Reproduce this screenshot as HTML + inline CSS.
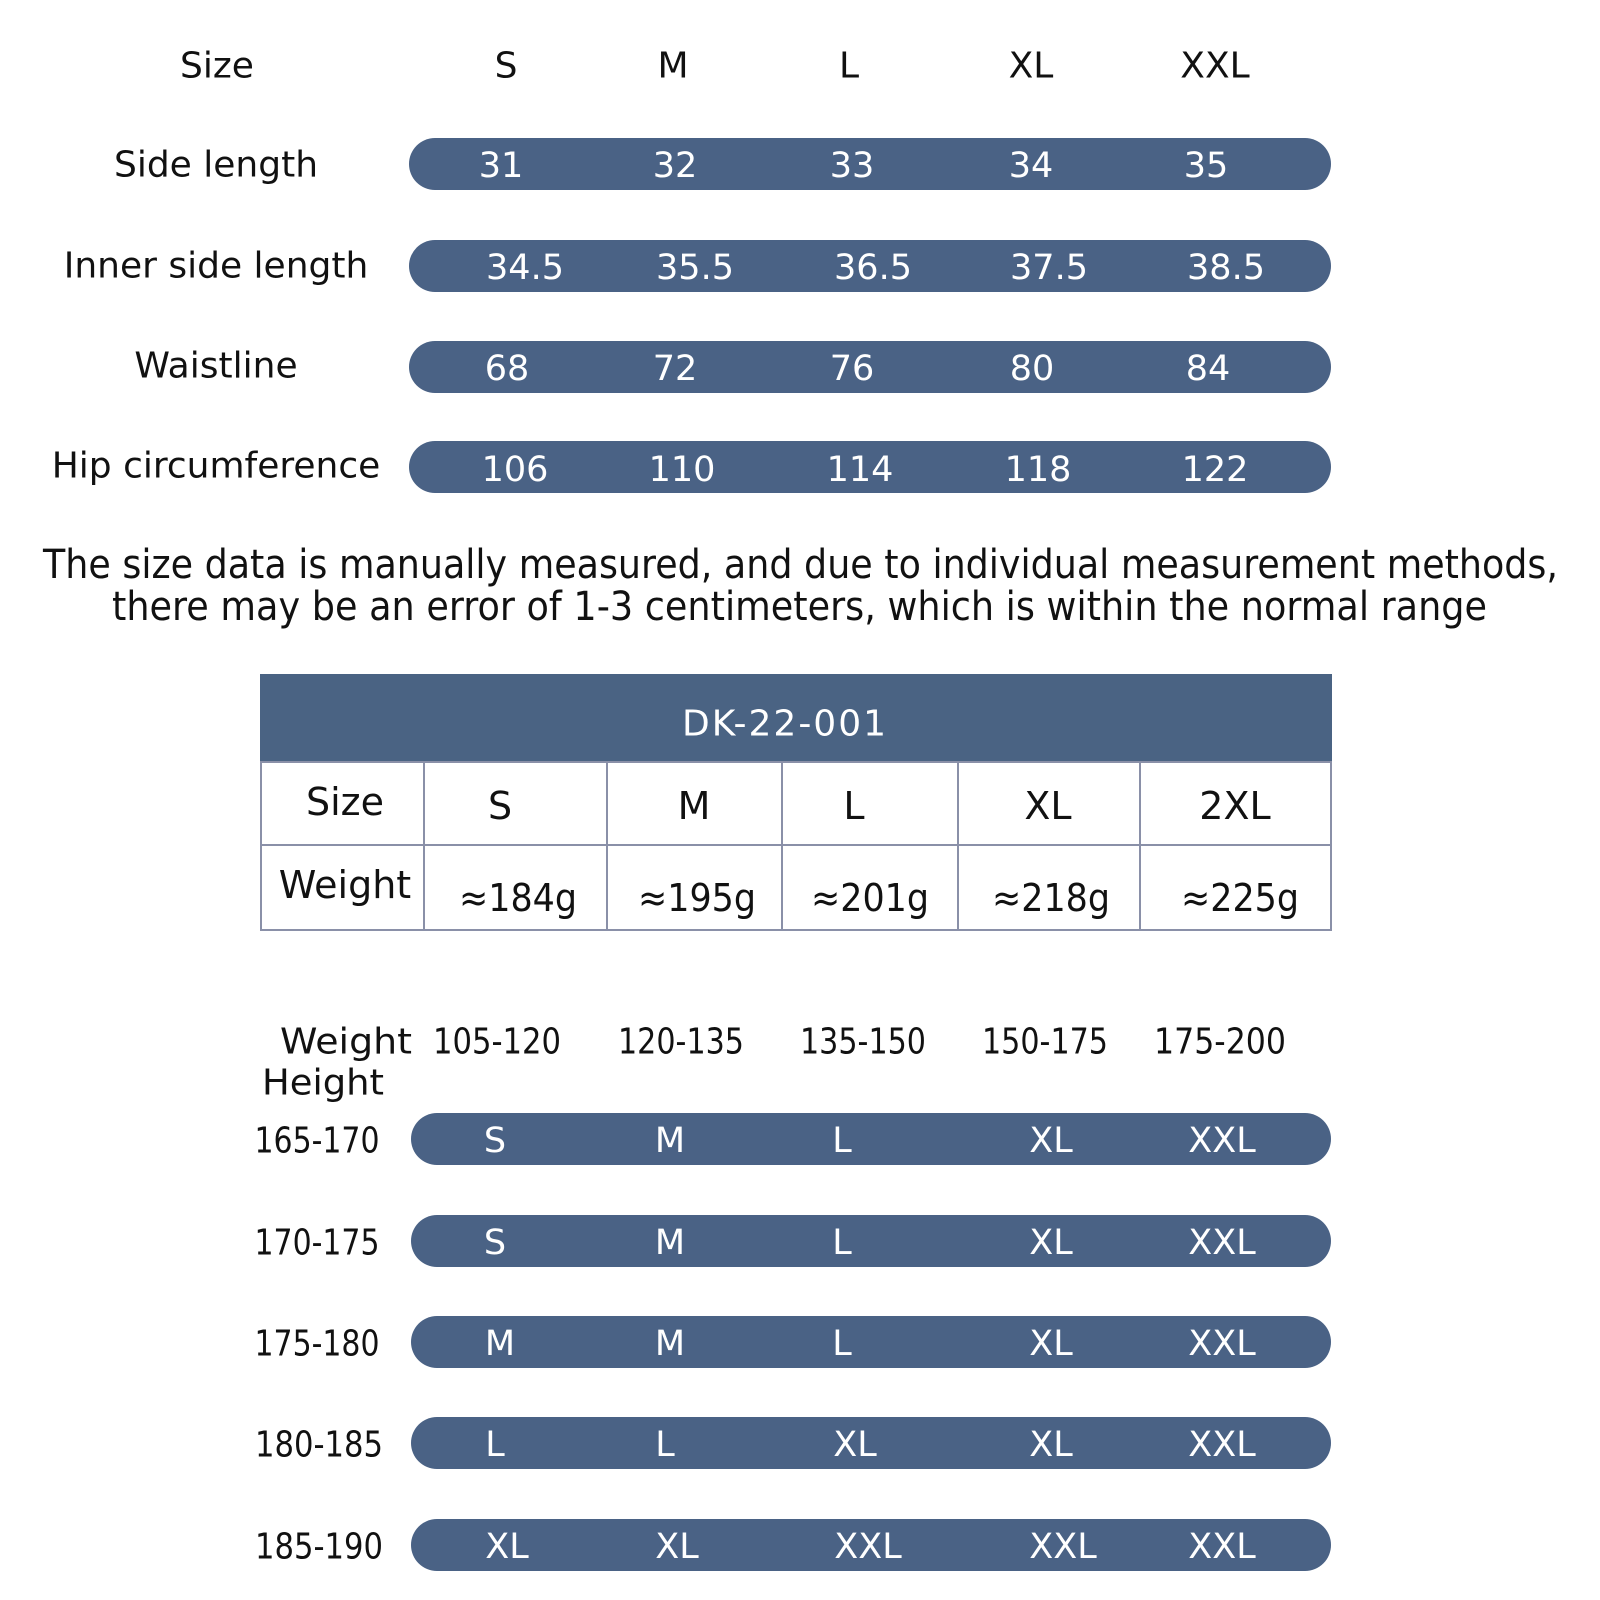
<!DOCTYPE html>
<html><head><meta charset="utf-8"><style>
html,body{margin:0;padding:0;background:#fff;}
svg{display:block;}
text{font-family:"DejaVu Sans","Liberation Sans",sans-serif;}
</style></head><body>
<svg width="1600" height="1600" viewBox="0 0 1600 1600" xmlns="http://www.w3.org/2000/svg">
<rect width="1600" height="1600" fill="#fff"/>
<g fill="#111" font-size="36" text-anchor="middle" dominant-baseline="central">
<text x="217" y="66">Size</text>
<text x="506" y="66">S</text>
<text x="673" y="66">M</text>
<text x="849" y="66">L</text>
<text x="1031" y="66">XL</text>
<text x="1215" y="66">XXL</text>
<text x="216" y="165">Side length</text>
<text x="216" y="266">Inner side length</text>
<text x="216" y="366">Waistline</text>
<text x="216" y="466">Hip circumference</text>
</g>
<g fill="#4a6285">
<rect x="409" y="138" width="922" height="52" rx="26"/>
<rect x="409" y="240" width="922" height="52" rx="26"/>
<rect x="409" y="341" width="922" height="52" rx="26"/>
<rect x="409" y="441" width="922" height="52" rx="26"/>
</g>
<g fill="#fff" font-size="35" text-anchor="middle" dominant-baseline="central">
<text x="501" y="166">31</text><text x="675" y="166">32</text><text x="852" y="166">33</text><text x="1031" y="166">34</text><text x="1206" y="166">35</text>
<text x="525" y="268">34.5</text><text x="695" y="268">35.5</text><text x="873" y="268">36.5</text><text x="1049" y="268">37.5</text><text x="1226" y="268">38.5</text>
<text x="507" y="369">68</text><text x="675" y="369">72</text><text x="852" y="369">76</text><text x="1032" y="369">80</text><text x="1208" y="369">84</text>
<text x="515" y="470">106</text><text x="682" y="470">110</text><text x="860" y="470">114</text><text x="1038" y="470">118</text><text x="1215" y="470">122</text>
</g>
<g fill="#111" font-size="40">
<text x="43" y="578" textLength="1515" lengthAdjust="spacingAndGlyphs">The size data is manually measured, and due to individual measurement methods,</text>
<text x="112" y="620" textLength="1375" lengthAdjust="spacingAndGlyphs">there may be an error of 1-3 centimeters, which is within the normal range</text>
</g>
<rect x="260" y="674" width="1072" height="88" fill="#4a6383"/>
<text x="785" y="724" fill="#fff" font-size="36" text-anchor="middle" dominant-baseline="central" letter-spacing="2">DK-22-001</text>
<g stroke="#8a90a8" stroke-width="2" fill="none">
<rect x="261" y="762" width="1070" height="168"/>
<line x1="261" y1="845" x2="1331" y2="845"/>
<line x1="424" y1="762" x2="424" y2="930"/>
<line x1="607" y1="762" x2="607" y2="930"/>
<line x1="782" y1="762" x2="782" y2="930"/>
<line x1="958" y1="762" x2="958" y2="930"/>
<line x1="1140" y1="762" x2="1140" y2="930"/>
</g>
<g fill="#111" font-size="38" text-anchor="middle" dominant-baseline="central">
<text x="345" y="802">Size</text>
<text x="500" y="806">S</text>
<text x="694" y="806">M</text>
<text x="854" y="806">L</text>
<text x="1048" y="806">XL</text>
<text x="1235" y="806">2XL</text>
<text x="345" y="885">Weight</text>
<text x="518" y="898" textLength="118" lengthAdjust="spacingAndGlyphs">≈184g</text>
<text x="697" y="898" textLength="118" lengthAdjust="spacingAndGlyphs">≈195g</text>
<text x="870" y="898" textLength="118" lengthAdjust="spacingAndGlyphs">≈201g</text>
<text x="1051" y="898" textLength="118" lengthAdjust="spacingAndGlyphs">≈218g</text>
<text x="1240" y="898" textLength="118" lengthAdjust="spacingAndGlyphs">≈225g</text>
</g>
<g fill="#111" font-size="36" text-anchor="middle" dominant-baseline="central">
<text x="346" y="1042" textLength="132" lengthAdjust="spacingAndGlyphs">Weight</text>
<text x="323" y="1083" textLength="122" lengthAdjust="spacingAndGlyphs">Height</text>
<text x="497" y="1042" textLength="128" lengthAdjust="spacingAndGlyphs">105-120</text>
<text x="681" y="1042" textLength="126" lengthAdjust="spacingAndGlyphs">120-135</text>
<text x="863" y="1042" textLength="126" lengthAdjust="spacingAndGlyphs">135-150</text>
<text x="1045" y="1042" textLength="126" lengthAdjust="spacingAndGlyphs">150-175</text>
<text x="1220" y="1042" textLength="132" lengthAdjust="spacingAndGlyphs">175-200</text>
<text x="317" y="1141" textLength="125" lengthAdjust="spacingAndGlyphs">165-170</text>
<text x="317" y="1243" textLength="125" lengthAdjust="spacingAndGlyphs">170-175</text>
<text x="317" y="1344" textLength="125" lengthAdjust="spacingAndGlyphs">175-180</text>
<text x="319" y="1445" textLength="128" lengthAdjust="spacingAndGlyphs">180-185</text>
<text x="319" y="1547" textLength="128" lengthAdjust="spacingAndGlyphs">185-190</text>
</g>
<g fill="#4a6285">
<rect x="411" y="1113" width="920" height="52" rx="26"/>
<rect x="411" y="1215" width="920" height="52" rx="26"/>
<rect x="411" y="1316" width="920" height="52" rx="26"/>
<rect x="411" y="1417" width="920" height="52" rx="26"/>
<rect x="411" y="1519" width="920" height="52" rx="26"/>
</g>
<g fill="#fff" font-size="35" text-anchor="middle" dominant-baseline="central">
<text x="495" y="1141">S</text><text x="670" y="1141">M</text><text x="842" y="1141">L</text><text x="1051" y="1141">XL</text><text x="1222" y="1141">XXL</text>
<text x="495" y="1243">S</text><text x="670" y="1243">M</text><text x="842" y="1243">L</text><text x="1051" y="1243">XL</text><text x="1222" y="1243">XXL</text>
<text x="500" y="1344">M</text><text x="670" y="1344">M</text><text x="842" y="1344">L</text><text x="1051" y="1344">XL</text><text x="1222" y="1344">XXL</text>
<text x="495" y="1445">L</text><text x="665" y="1445">L</text><text x="855" y="1445">XL</text><text x="1051" y="1445">XL</text><text x="1222" y="1445">XXL</text>
<text x="507" y="1547">XL</text><text x="677" y="1547">XL</text><text x="868" y="1547">XXL</text><text x="1063" y="1547">XXL</text><text x="1222" y="1547">XXL</text>
</g>
</svg>
</body></html>
